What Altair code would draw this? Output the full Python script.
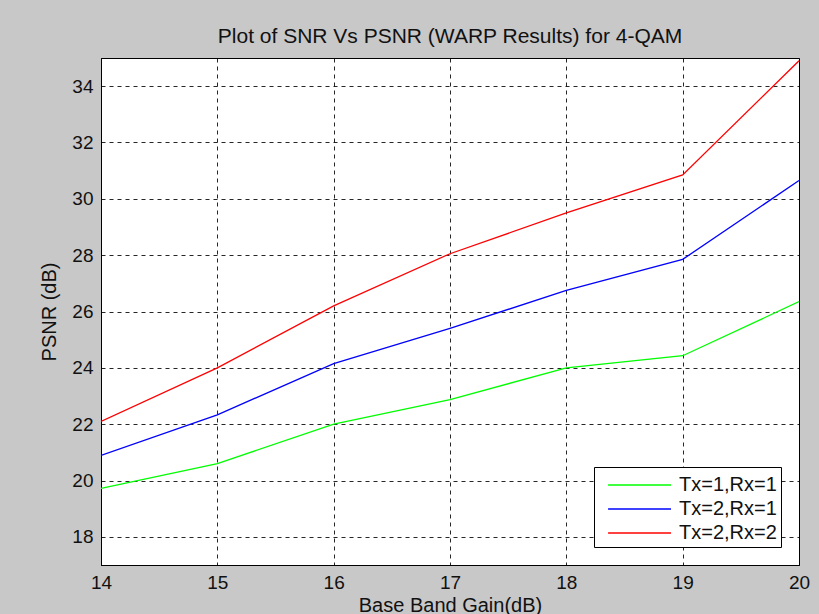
import altair as alt
import pandas as pd

gain = [14, 15, 16, 17, 18, 19, 20]
psnr_11 = [19.72, 20.6, 22.0, 22.87, 24.0, 24.43, 26.35]
psnr_21 = [20.89, 22.33, 24.15, 25.4, 26.75, 27.85, 30.65]
psnr_22 = [22.1, 24.0, 26.2, 28.05, 29.5, 30.85, 34.9]
series = ["Tx=1,Rx=1", "Tx=2,Rx=1", "Tx=2,Rx=2"]
colors = ["#00ff00", "#0000ff", "#ff0000"]

rows = []
for name, vals in zip(series, [psnr_11, psnr_21, psnr_22]):
    for g, v in zip(gain, vals):
        rows.append({"gain": g, "psnr": v, "series": name})
df = pd.DataFrame(rows)

W, H = 698, 507
FONT = "Liberation Sans"

lines = alt.Chart(df).mark_line(strokeWidth=1.3, clip=True).encode(
    x=alt.X("gain:Q", scale=alt.Scale(domain=[14, 20], nice=False),
            axis=alt.Axis(values=gain, title="Base Band Gain(dB)", titlePadding=3,
                          labelFlush=False)),
    y=alt.Y("psnr:Q", scale=alt.Scale(domain=[17, 35], nice=False),
            axis=alt.Axis(values=[18, 20, 22, 24, 26, 28, 30, 32, 34], title="PSNR (dB)",
                          titlePadding=12, labelFlush=False)),
    color=alt.Color("series:N", scale=alt.Scale(domain=series, range=colors),
                    legend=alt.Legend(title=None, orient="none", legendX=493, legendY=409,
                                      symbolType="M-0.3,0H4.54", symbolSize=676,
                                      symbolStrokeWidth=1.5, labelFontSize=20,
                                      labelFont=FONT, labelColor="#111111",
                                      fillColor="white", strokeColor="black",
                                      padding=4, rowPadding=0, labelOffset=53,
                                      labelLimit=220)),
)

chart = lines.properties(
    width=W, height=H,
    title=alt.Title("Plot of SNR Vs PSNR (WARP Results) for 4-QAM", fontSize=21,
                    font=FONT, fontWeight="normal", color="#111111", offset=11),
    autosize=alt.AutoSizeParams(type="none"),
    padding={"left": 101, "top": 58, "right": 20, "bottom": 49},
).configure(background="#c8c8c8").configure_view(
    fill="white", stroke="black", strokeWidth=1
).configure_axis(
    labelFont=FONT, labelFontSize=19, labelColor="#111111",
    titleFont=FONT, titleFontSize=20, titleFontWeight="normal", titleColor="#111111",
    domainColor="black", ticks=False,
    grid=True, gridColor="black", gridDash=[4, 4], gridOpacity=0.85, gridWidth=1,
    labelPadding=8,
)

chart.save("out.html", embed_options={"renderer": "svg", "actions": False})
